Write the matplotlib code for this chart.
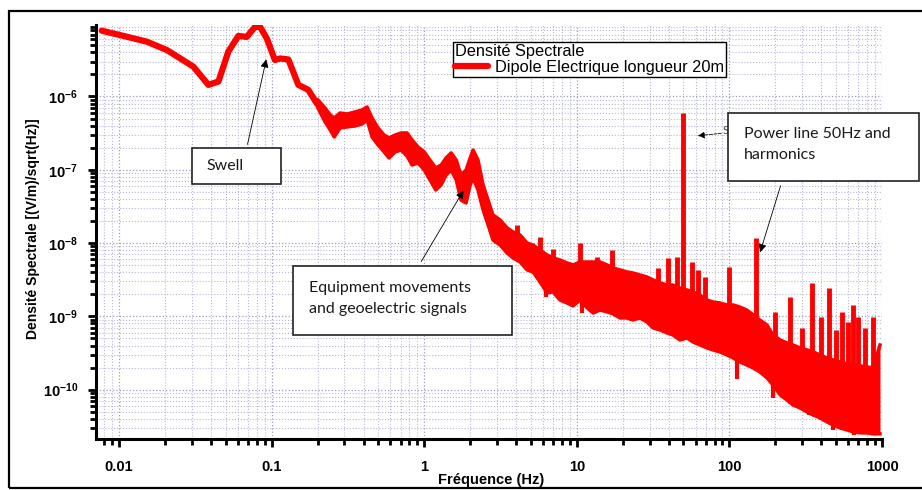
import numpy as np
import matplotlib
matplotlib.use('Agg')
import matplotlib.pyplot as plt
from matplotlib.patches import Rectangle
from matplotlib.ticker import LogLocator, NullFormatter, FuncFormatter, FixedLocator

plt.rcParams['font.family'] = ['Liberation Sans', 'DejaVu Sans']
plt.rcParams['mathtext.fontset'] = 'custom'
plt.rcParams['mathtext.rm'] = 'Liberation Sans'
plt.rcParams['mathtext.bf'] = 'Liberation Sans:bold'

# smooth low-frequency part of the spectrum (Hz, (V/m)/sqrt(Hz))
lf_freq = [0.0077, 0.0101, 0.0152, 0.0206, 0.0307, 0.0385, 0.0448, 0.052, 0.0605,
           0.0687, 0.0778, 0.084, 0.0929, 0.105, 0.1135, 0.1287, 0.1496, 0.174,
           0.197, 0.207]
lf_psd = [7.9e-6, 6.9e-6, 5.6e-6, 4.3e-6, 2.55e-6, 1.44e-6, 1.6e-6, 4.1e-6, 6.7e-6,
          6.5e-6, 8.9e-6, 8.9e-6, 6.2e-6, 3.15e-6, 3.3e-6, 3.2e-6, 1.44e-6, 1.23e-6,
          8.1e-7, 7.3e-7]

# noisy part: upper / lower envelope of the trace
band_freq = [0.201, 0.224, 0.242, 0.257, 0.281, 0.312, 0.352, 0.391, 0.422, 0.455,
             0.498, 0.546, 0.588, 0.644, 0.705, 0.771, 0.832, 0.91, 1.0, 1.09,
             1.19, 1.29, 1.39, 1.5, 1.62, 1.74, 1.88, 2.0, 2.09, 2.25,
             2.43, 2.62, 2.82, 3.14, 3.49, 3.82, 4.25, 4.72, 5.16, 5.74,
             6.38, 6.98, 7.76, 8.63, 9.44, 10.5, 11.7, 12.8, 14.2, 15.8,
             17.3, 19.2, 21.3, 23.3, 25.9, 28.8, 31.6, 35.1, 39.0, 42.7,
             47.4, 52.7, 57.7, 64.1, 71.3, 78.1, 86.7, 96.4, 106, 117,
             130, 143, 158, 176, 193, 215, 238, 261, 290, 323,
             353, 393, 436, 478, 531, 590, 646, 718, 798, 873, 970]
band_hi = [8.96e-7, 6.97e-7, 5.6e-7, 5.09e-7, 5.96e-7, 5.77e-7, 6.15e-7, 6.55e-7, 7.19e-7, 5.09e-7,
           3.72e-7, 2.98e-7, 2.72e-7, 2.98e-7, 3.18e-7, 3.18e-7, 2.55e-7, 2.05e-7, 1.75e-7, 1.36e-7,
           1.06e-7, 1.16e-7, 1.45e-7, 1.7e-7, 1.36e-7, 8.49e-8, 9.94e-8, 1.45e-7, 1.86e-7, 1.36e-7,
           6.2e-8, 3.87e-8, 2.42e-8, 2.07e-8, 1.61e-8, 1.42e-8, 1.29e-8, 1.0e-8, 9.4e-9, 8.05e-9,
           6.89e-9, 6.27e-9, 5.88e-9, 5.35e-9, 5.03e-9, 5.52e-9, 5.52e-9, 5.52e-9, 5.52e-9, 5.03e-9,
           4.57e-9, 4.3e-9, 4.04e-9, 3.91e-9, 3.67e-9, 3.45e-9, 3.14e-9, 2.86e-9, 2.68e-9, 2.68e-9,
           2.44e-9, 2.29e-9, 2.15e-9, 1.96e-9, 1.67e-9, 1.57e-9, 1.52e-9, 1.43e-9, 1.43e-9, 1.34e-9,
           1.22e-9, 1.05e-9, 8.93e-10, 7.63e-10, 5.57e-10, 4.76e-10, 4.34e-10, 4.07e-10, 3.71e-10, 3.48e-10,
           3.27e-10, 2.97e-10, 2.7e-10, 2.54e-10, 2.39e-10, 2.24e-10, 2.17e-10, 2.11e-10, 2.04e-10, 1.98e-10, 4.07e-10]
band_lo = [6.97e-7, 4.49e-7, 3.49e-7, 2.8e-7, 3.72e-7, 3.84e-7, 3.96e-7, 4.21e-7, 4.78e-7, 2.8e-7,
           2.18e-7, 1.75e-7, 1.45e-7, 1.75e-7, 1.86e-7, 1.54e-7, 1.16e-7, 1.24e-7, 9.94e-8, 7.26e-8,
           5.3e-8, 6.2e-8, 8.49e-8, 9.94e-8, 7.26e-8, 3.87e-8, 3.52e-8, 6.2e-8, 7.73e-8, 5.3e-8,
           2.83e-8, 1.77e-8, 1.1e-8, 9.4e-9, 7.33e-9, 6.27e-9, 5.52e-9, 4.3e-9, 4.04e-9, 2.95e-9,
           2.09e-9, 2.15e-9, 1.67e-9, 1.52e-9, 1.39e-9, 1.67e-9, 1.3e-9, 1.11e-9, 1.22e-9, 1.15e-9,
           1.08e-9, 9.5e-10, 9.5e-10, 8.93e-10, 9.5e-10, 8.39e-10, 6.95e-10, 6.52e-10, 5.94e-10, 5.57e-10,
           4.76e-10, 5.07e-10, 4.47e-10, 4.07e-10, 3.71e-10, 3.48e-10, 3.27e-10, 2.97e-10, 2.7e-10, 2.39e-10,
           2.17e-10, 1.98e-10, 1.75e-10, 1.45e-10, 1.16e-10, 8.48e-11, 7.24e-11, 6.18e-11, 5.63e-11, 4.96e-11,
           4.52e-11, 4.11e-11, 3.62e-11, 3.3e-11, 3.0e-11, 2.82e-11, 2.65e-11, 2.57e-11, 2.57e-11, 2.49e-11, 2.49e-11]

# narrow peaks (power line 50 Hz and harmonics, other lines)
peak_freq = [4.04, 5.74, 7.0, 10.5, 13.5, 16.9, 34.2, 39.8, 45.5, 50.0, 56.6, 62.5, 69.2,
             100, 150, 200, 250, 300, 350, 400, 450, 500, 550, 600, 650, 700, 770, 870]
peak_top = [1.77e-8, 1.22e-8, 8.2e-9, 1.0e-8, 6.5e-9, 8.05e-9, 4.53e-9, 6.2e-9, 6.5e-9, 5.96e-7,
            5.6e-9, 4.3e-9, 3.45e-9, 4.77e-9, 1.17e-8, 1.16e-9, 1.86e-9, 6.9e-10, 2.83e-9, 9.9e-10,
            2.42e-9, 6.5e-10, 1.16e-9, 8.5e-10, 1.43e-9, 9.9e-10, 6.9e-10, 9.9e-10]
# downward dips below the band
dip_freq = [6.3, 10.8, 31.6, 112, 193, 330, 480, 660, 870]
dip_low = [1.86e-9, 1.1e-9, 7.2e-10, 1.38e-10, 7.6e-11, 4.5e-11, 2.8e-11, 2.4e-11, 2.4e-11]

red = '#ff0000'
fig = plt.figure(figsize=(9.22, 4.9), dpi=100)
ax = fig.add_axes([96 / 922, 1 - 439 / 490, 786 / 922, 414 / 490])

line, = ax.plot(lf_freq, lf_psd, color=red, lw=4.5, solid_capstyle='round',
                solid_joinstyle='round', label='Dipole Electrique longueur 20m', zorder=3)
ax.fill_between(band_freq, band_lo, band_hi, color=red, lw=0, zorder=3)
ax.plot(band_freq, band_hi, color=red, lw=2.5, solid_joinstyle='round', zorder=3)
ax.plot(band_freq, band_lo, color=red, lw=2.5, solid_joinstyle='round', zorder=3)
pk_base = np.exp(np.interp(np.log(peak_freq), np.log(band_freq), np.log(band_lo)))
ax.vlines(peak_freq, pk_base, peak_top, color=red, lw=3.5, zorder=3)
dp_top = np.exp(np.interp(np.log(dip_freq), np.log(band_freq), np.log(band_hi)))
ax.vlines(dip_freq, dip_low, dp_top, color=red, lw=3, zorder=3)

ax.set_xscale('log')
ax.set_yscale('log')
ax.set_xlim(0.00706, 1000)
ax.set_ylim(2.12e-11, 9.45e-6)

ax.xaxis.set_major_locator(FixedLocator([0.01, 0.1, 1, 10, 100, 1000]))
ax.xaxis.set_minor_locator(LogLocator(base=10, subs=np.arange(2, 10), numticks=20))
ax.yaxis.set_major_locator(FixedLocator([1e-10, 1e-9, 1e-8, 1e-7, 1e-6]))
ax.yaxis.set_minor_locator(LogLocator(base=10, subs=np.arange(2, 10), numticks=20))
ax.xaxis.set_minor_formatter(NullFormatter())
ax.yaxis.set_minor_formatter(NullFormatter())
ax.xaxis.set_major_formatter(FuncFormatter(lambda v, p: '{:g}'.format(v)))
ax.yaxis.set_major_formatter(FuncFormatter(
    lambda v, p: r'$\mathbf{10^{%d}}$' % int(round(np.log10(v)))))

ax.grid(True, which='major', color='#9c9cc6', ls=':', lw=0.9, zorder=0)
ax.grid(True, which='minor', color='#b8b8d4', ls=':', lw=0.8, zorder=0)

for s in ['top', 'right']:
    ax.spines[s].set_visible(False)
for s in ['left', 'bottom']:
    ax.spines[s].set_linewidth(2.2)
ax.tick_params(which='major', length=6, width=2, direction='out', labelsize=10.5, pad=7)
ax.tick_params(which='minor', length=4, width=2, direction='out')
ax.tick_params(axis='x', which='major', pad=9)
for t in ax.get_xticklabels():
    t.set_fontweight('bold')

fig.text(33 / 922, 1 - 229 / 490, 'Densité Spectrale [(V/m)/sqrt(Hz)]', rotation=90,
         ha='center', va='center', fontsize=10, fontweight='bold')
fig.text(491 / 922, 1 - 480 / 490, 'Fréquence (Hz)', ha='center', va='center',
         fontsize=10.5, fontweight='bold')

leg = ax.legend(handles=[line], title='Densité Spectrale', loc='upper left',
                bbox_to_anchor=(0.454, 0.959), alignment='left', fontsize=11.8,
                title_fontsize=11.8, fancybox=False, framealpha=1, edgecolor='black',
                borderpad=0.12, borderaxespad=0, labelspacing=0.05, handlelength=2.0,
                handletextpad=0.45)
leg.get_frame().set_linewidth(1.0)
leg.get_lines()[0].set_linewidth(4.5)
leg.set_zorder(6)

note_font = dict(family=['Lato', 'DejaVu Sans'], fontsize=11.5, color='#1a1a1a')
arrow_kw = dict(arrowstyle='-|>', color='black', lw=0.6, mutation_scale=12)

# Swell box
ax.add_patch(Rectangle((0.122, 0.616), 0.113, 0.087, transform=ax.transAxes,
                       facecolor='white', edgecolor='#222222', lw=1.2, zorder=7))
ax.text(0.141, 0.659, 'Swell', transform=ax.transAxes, va='center', zorder=8, **note_font)
ax.annotate('', xy=(0.093, 3.5e-6), xycoords='data', xytext=(0.192, 0.705),
            textcoords='axes fraction', arrowprops=arrow_kw, zorder=8)

# Equipment box
ax.add_patch(Rectangle((0.251, 0.251), 0.278, 0.167, transform=ax.transAxes,
                       facecolor='white', edgecolor='#222222', lw=1.2, zorder=7))
ax.text(0.271, 0.339, 'Equipment movements\nand geoelectric signals', transform=ax.transAxes,
        va='center', linespacing=1.65, zorder=8, **note_font)
ax.annotate('', xy=(1.85, 5.65e-8), xycoords='data', xytext=(0.412, 0.423),
            textcoords='axes fraction', arrowprops=arrow_kw, zorder=8)

# small dashed arrow towards the 50 Hz line
ax.text(0.797, 0.745, 'S', transform=ax.transAxes, fontsize=8, va='center', color='#444444',
        zorder=6, family=['Lato', 'DejaVu Sans'])
ax.annotate('', xy=(59.6, 2.89e-7), xycoords='data', xytext=(0.799, 0.739),
            textcoords='axes fraction', zorder=6,
            arrowprops=dict(arrowstyle='-|>', color='black', lw=0.6, ls='--', mutation_scale=10))

# Power line box
ax.add_patch(Rectangle((0.804, 0.623), 0.243, 0.165, transform=ax.transAxes,
                       facecolor='white', edgecolor='#222222', lw=1.2, zorder=7, clip_on=False))
ax.text(0.824, 0.711, 'Power line 50Hz and\nharmonics', transform=ax.transAxes,
        va='center', linespacing=1.65, zorder=8, clip_on=False, **note_font)
ax.annotate('', xy=(157, 6.9e-9), xycoords='data', xytext=(0.872, 0.618),
            textcoords='axes fraction', arrowprops=arrow_kw, zorder=8)

# outer frame of the picture
fig.add_artist(Rectangle((9 / 922, 2 / 490), 1.0, 477 / 490, transform=fig.transFigure,
                         facecolor='none', edgecolor='black', lw=1.6, clip_on=False))

fig.savefig('out.png', dpi=100)
